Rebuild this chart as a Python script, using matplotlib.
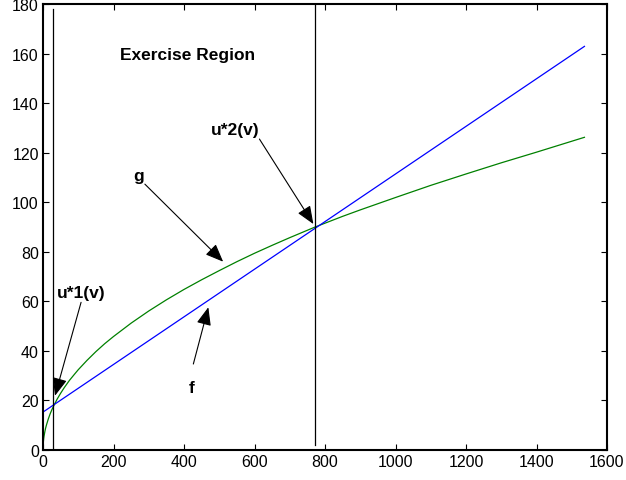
import numpy as np
import matplotlib.pyplot as plt

# values
x_f = [0, 1536]
f_vals = [15.3, 162.9]

x_g = [0, 1, 2, 3, 5, 7, 10, 15, 20, 25, 30, 40, 50, 60, 75, 90, 100,
       125, 150, 175, 200, 250, 300, 350, 400, 450, 500, 550, 600, 650,
       700, 772, 850, 900, 1000, 1100, 1200, 1300, 1400, 1536]
g_vals = [0, 3.2, 4.6, 5.6, 7.2, 8.6, 10.2, 12.5, 14.5, 16.2, 17.7, 20.5,
          22.9, 25.1, 28.1, 30.7, 32.4, 36.2, 39.7, 42.9, 45.8, 51.2, 56.1,
          60.6, 64.8, 68.7, 72.4, 76.0, 79.4, 82.6, 85.7, 90.0, 94.3, 96.9,
          101.9, 106.8, 111.4, 115.9, 120.2, 126.2]

u1 = 29
u2 = 772

xticks = [0, 200, 400, 600, 800, 1000, 1200, 1400, 1600]
yticks = [0, 20, 40, 60, 80, 100, 120, 140, 160, 180]

plt.rcParams['font.family'] = ['Liberation Sans', 'DejaVu Sans']

fig = plt.figure(figsize=(6.26, 4.81), dpi=100)
ax = fig.add_axes([43 / 626, 1 - 451 / 481, 564 / 626, 446 / 481])

ax.plot(x_g, g_vals, color=(0, 0.5, 0), lw=0.9)
ax.plot(x_f, f_vals, color=(0, 0, 1), lw=0.9)
ax.plot([u1, u1], [0, 178], color='k', lw=0.9)
ax.plot([u2, u2], [2, 180], color='k', lw=0.9)

ax.set_xlim(0, 1600)
ax.set_ylim(0, 180)
ax.set_xticks(xticks)
ax.set_yticks(yticks)
ax.tick_params(direction='in', top=True, right=True, length=4,
               labelsize=11.5, width=0.8, pad=3)
for s in ax.spines.values():
    s.set_linewidth(1.5)

tfont = dict(fontsize=12.5, fontweight='bold')
ax.text(410, 159.8, 'Exercise Region', ha='center', va='center', **tfont)
ax.text(545, 129.5, 'u*2(v)', ha='center', va='center', **tfont)
ax.text(270, 110.7, 'g', ha='center', va='center', **tfont)
ax.text(107, 63.6, 'u*1(v)', ha='center', va='center', **tfont)
ax.text(422, 25.3, 'f', ha='center', va='center', **tfont)

arr = dict(arrowstyle='-|>,head_length=1.1,head_width=0.45', color='k',
           lw=0.8, shrinkA=0, shrinkB=0)
ax.annotate('', xy=(767, 91.2), xytext=(614, 125.5), arrowprops=arr)
ax.annotate('', xy=(511, 76), xytext=(289, 107.3), arrowprops=arr)
ax.annotate('', xy=(34, 21.9), xytext=(108, 59.6), arrowprops=arr)
ax.annotate('', xy=(469, 57.6), xytext=(426.5, 34.7), arrowprops=arr)

fig.savefig('out.png', dpi=100)
